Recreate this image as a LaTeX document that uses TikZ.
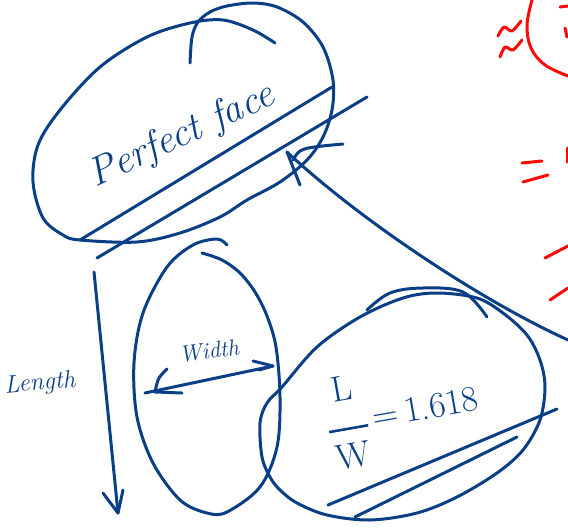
\documentclass[tikz,border=0pt]{standalone}
\usepackage{fontspec}
\setmainfont{Latin Modern Roman}
\usetikzlibrary{arrows.meta,positioning}
\definecolor{ink}{HTML}{0A3F86}
\definecolor{redink}{HTML}{FF0808}

\begin{document}
\begin{tikzpicture}[x=1pt,y=-1pt,
  pen/.style={draw=ink, line width=3pt, line cap=round, line join=round},
  redpen/.style={draw=redink, line width=3pt, line cap=round, line join=round},
  hand/.style={text=ink, font=\itshape, inner sep=0pt}
]
  \useasboundingbox (0,0) rectangle (568,530);

  % face outline
  \draw[pen] plot[smooth, tension=0.55] coordinates {(190,63) (192,37) (198,22) (210,12) (227,6)
    (253,3) (277,7) (303,22) (323,47) (333,80) (332,110) (323,137) (307,160) (280,182) (247,200)
    (220,217) (180,233) (137,242) (80,240) (63,235) (43,218) (33,182) (38,145) (60,110) (100,67)
    (147,37) (190,23) (223,20) (253,30) (275,43)};
  \node[hand, font=\fontsize{40}{40}\selectfont\itshape, rotate=25] (face) at (182,136) {Perfect face};
  \draw[pen] (80,240) -- (332,87);
  \draw[pen] (97,258) -- (367,97);

  % length
  \coordinate (lenTop) at (94,272);
  \coordinate (lenTip) at (118,513);
  \draw[pen] (lenTop) -- (lenTip);
  \draw[pen] (103,493) -- (lenTip) -- (123,490);
  \node[hand, font=\fontsize{25}{25}\selectfont\itshape, rotate=5] (len) at (40,384) {Length};

  % width ellipse
  \draw[pen] plot[smooth, tension=0.55] coordinates {(202,253) (222,260) (240,273) (255,292)
    (267,316) (276,347) (280,397) (277,447) (260,487) (227,512) (207,513) (180,500) (153,463)
    (137,417) (134,363) (143,313) (167,267) (193,245) (217,239) (227,245)};
  \coordinate (wL) at (145,393);
  \coordinate (wR) at (273,366);
  \draw[pen] (wL) -- (wR);
  \draw[pen] (253,361) -- (wR) -- (259,370);
  \draw[pen] (167,369) .. controls (158,378) .. (155,392) -- (182,393);
  \node[hand, font=\fontsize{23}{23}\selectfont\itshape, rotate=8] (wid) at (209,351) {Width};

  % ratio ellipse
  \draw[pen] plot[smooth cycle, tension=0.55] coordinates {(270,477) (262,457) (260,423)
    (267,403) (282,387) (317,347) (360,317) (403,298) (437,293) (477,298) (503,313) (527,335)
    (540,360) (545,387) (540,420) (523,450) (497,473) (457,497) (417,513) (370,520) (327,515)
    (297,503) (280,490)};
  \draw[pen] plot[smooth, tension=0.6] coordinates {(367,310) (390,293) (423,288) (463,292) (487,317)};
  \node[hand, font=\fontsize{36}{36}\selectfont, rotate=10] (ratio) at (404,417)
    {\begin{tabular}{@{}c@{}}L\\[-6pt]\rule{1.1em}{2.6pt}\\[2pt]W\end{tabular}\,=\,1.618};
  \draw[pen] (328,505) -- (557,409);
  \draw[pen] (355,517) -- (517,437);

  % curved arrow into face
  \coordinate (cStart) at (568,340);
  \coordinate (cTip) at (287,152);
  \draw[pen] (cStart) .. controls (480,300) and (360,220) .. (cTip);
  \draw[pen] (cTip) -- (300,185);
  \draw[pen] (293,160) .. controls (300,148) .. (343,144);

  % red marks at the edge
  \draw[redpen] plot[smooth] coordinates {(498,36) (504,27) (512,31) (521,21)};
  \draw[redpen] plot[smooth] coordinates {(500,57) (505,47) (513,50) (522,40)};
  \draw[redpen] plot[smooth, tension=0.6] coordinates {(532,0) (527,25) (531,48) (545,65) (568,76)};
  \draw[redpen] (560,7) -- (568,6);
  \draw[redpen] (565,28) -- (567,37);
  \draw[redpen] (522,163) -- (542,161);
  \draw[redpen] (523,182) -- (548,175);
  \draw[redpen] (567,148) -- (567,162);
  \draw[redpen] (545,258) -- (568,246);
  \draw[redpen] (550,300) -- (568,288);
\end{tikzpicture}
\end{document}
